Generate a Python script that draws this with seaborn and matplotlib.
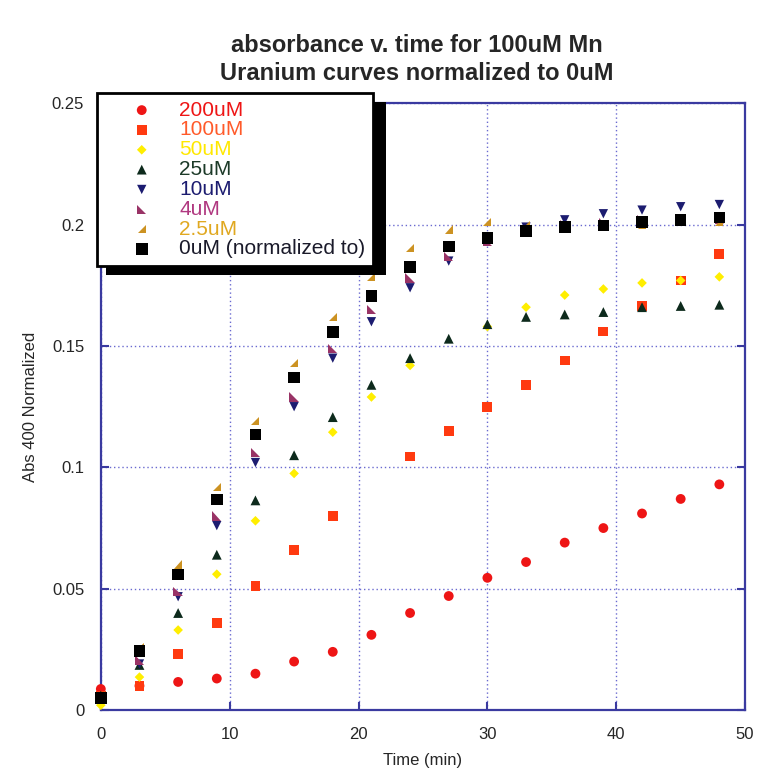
import matplotlib
matplotlib.use("Agg")
import matplotlib.pyplot as plt
from matplotlib.patches import Rectangle
from matplotlib.transforms import IdentityTransform
import numpy as np
import pandas as pd
import seaborn as sns

# time points (min)
time_min = [0, 3, 6, 9, 12, 15, 18, 21, 24, 27, 30, 33, 36, 39, 42, 45, 48]

# normalized absorbance at 400 nm, one list per uranium concentration
abs_200uM = [0.0087, 0.010, 0.0116, 0.013, 0.015, 0.020, 0.024, 0.031, 0.040, 0.047,
             0.0545, 0.061, 0.069, 0.075, 0.081, 0.087, 0.093]
abs_100uM = [0.006, 0.010, 0.023, 0.036, 0.051, 0.066, 0.080, np.nan, 0.1045, 0.115,
             0.125, 0.134, 0.144, 0.156, 0.1665, 0.177, 0.188]
abs_50uM = [0.002, 0.0136, 0.033, 0.056, 0.078, 0.0975, 0.1145, 0.129, 0.142, np.nan,
            0.158, 0.166, 0.171, 0.1735, 0.176, 0.177, 0.1785]
abs_25uM = [0.006, 0.0186, 0.040, 0.064, 0.0864, 0.105, 0.1207, 0.134, 0.145, 0.153,
            0.159, 0.162, 0.163, 0.164, 0.166, 0.1665, 0.167]
abs_10uM = [0.005, 0.019, 0.0467, 0.076, 0.102, 0.125, 0.145, 0.160, 0.174, 0.185,
            0.193, 0.199, 0.202, 0.2045, 0.206, 0.2074, 0.2083]
abs_4uM = [0.005, 0.0207, 0.049, 0.080, 0.106, 0.129, 0.149, 0.165, 0.178, 0.187,
           0.193, 0.198, 0.200, 0.201, 0.202, 0.202, 0.202]
abs_2_5uM = [0.006, 0.026, 0.060, 0.092, 0.119, 0.143, 0.162, 0.1785, 0.1905, 0.198,
             0.201, 0.200, 0.200, 0.200, 0.200, 0.201, 0.201]
abs_0uM = [0.005, 0.0244, 0.0558, 0.0868, 0.1136, 0.137, 0.1557, 0.1707, 0.1826, 0.191,
           0.1946, 0.1975, 0.199, 0.1996, 0.201, 0.202, 0.203]

labels = ["200uM", "100uM", "50uM", "25uM", "10uM", "4uM", "2.5uM", "0uM (normalized to)"]
series = [abs_200uM, abs_100uM, abs_50uM, abs_25uM, abs_10uM, abs_4uM, abs_2_5uM, abs_0uM]

# styles
colors = ["#ee1515", "#ff3a10", "#ffee00", "#0d2a1c", "#1c1c70", "#993366", "#cc9222", "#000000"]
text_colors = ["#ee1515", "#ff5a2a", "#ffe800", "#1c3a28", "#1c1c70", "#b03880", "#e0a820", "#1a1a2a"]
tri_ll = [(-1, 1), (-1, -1), (1, -1)]   # right triangle, corner bottom-left
tri_lr = [(1, 1), (1, -1), (-1, -1)]    # right triangle, corner bottom-right
markers = ["o", "s", "D", "^", "v", tri_ll, tri_lr, "s"]
sizes = [50, 50, 24, 50, 45, 45, 34, 70]

sns.set_style("white")
plt.rcParams['font.family'] = ['Liberation Sans', 'DejaVu Sans']

fig = plt.figure(figsize=(7.58, 7.71), dpi=100)
ax = fig.add_axes([0.133, 0.079, 0.850, 0.787])

df = pd.DataFrame({"time": time_min})
for lab, vals, c, m, s in zip(labels, series, colors, markers, sizes):
    df[lab] = vals
    sns.scatterplot(x="time", y=lab, data=df, color=c, marker=m, s=s,
                    edgecolor="none", linewidth=0, label=lab, ax=ax, clip_on=False, zorder=3)

ax.set_xlim(0, 50)
ax.set_ylim(0, 0.25)
ax.set_xticks([0, 10, 20, 30, 40, 50])
ax.set_yticks([0, 0.05, 0.1, 0.15, 0.2, 0.25])
ax.set_yticklabels(["0", "0.05", "0.1", "0.15", "0.2", "0.25"])
ax.grid(True, linestyle=(0, (1, 2)), color="#6a6ad0", linewidth=1.0)
ax.tick_params(direction="in", length=6, width=1.5, color="#3a3aa0",
               labelsize=12, top=False, right=True, bottom=True, left=True, pad=12)
for sp in ax.spines.values():
    sp.set_color("#3a3aa0")
    sp.set_linewidth(1.6)

ax.set_xlabel("Time (min)", fontsize=12, labelpad=8)
ax.set_ylabel("Abs 400 Normalized", fontsize=12, labelpad=10)
fig.text(0.55, 0.923, "absorbance v. time for 100uM Mn\nUranium curves normalized to 0uM",
         ha="center", va="center", fontsize=17, fontweight="bold", linespacing=1.3)

leg = ax.legend(loc="upper left", bbox_to_anchor=(-0.006, 1.0165), frameon=True,
                fontsize=15, handletextpad=0.0, labelspacing=0.04, borderpad=0.35,
                handlelength=3.6, fancybox=False, borderaxespad=0, framealpha=1)
leg.get_frame().set_edgecolor("black")
leg.get_frame().set_linewidth(2)
leg.set_zorder(6)
for t, tc in zip(leg.get_texts(), text_colors):
    t.set_color(tc)

# heavy black drop shadow behind the legend box
fig.canvas.draw()
bb = leg.get_window_extent()
ax.add_patch(Rectangle((bb.x0 + 9, bb.y0 - 9), bb.width + 4, bb.height,
                       transform=IdentityTransform(), facecolor="black",
                       edgecolor="none", zorder=5.5, clip_on=False))

fig.savefig("out.png", dpi=100)
